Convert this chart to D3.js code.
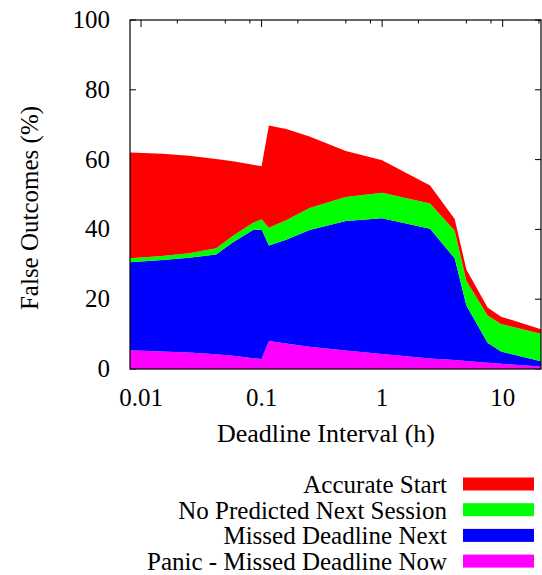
<!DOCTYPE html>
<html>
<head>
<meta charset="utf-8">
<script src="https://cdn.jsdelivr.net/npm/d3@7"></script>
<style>
  body { margin: 0; background: #fff; }
  svg text { font-family: "Liberation Serif", "Times New Roman", serif; fill: #000; }
</style>
</head>
<body>
<svg width="542" height="575"></svg>
<script>
// deadline interval in hours
var hours = [0.0081, 0.015, 0.025, 0.042, 0.058, 0.085, 0.1, 0.115, 0.16, 0.25, 0.5, 1, 2.5, 4, 5, 7.5, 9.7, 20.8];

// per-category share of false outcomes (%), stacked bottom to top
var panicNow   = [5.4, 5.0, 4.7, 4.2, 3.8, 3.1, 2.9, 8.0, 7.3, 6.4, 5.3, 4.3, 3.0, 2.6, 2.3, 1.8, 1.5, 0.7];
var missedNext = [25.2, 26.2, 27.2, 28.6, 32.5, 36.7, 37.1, 27.4, 29.7, 33.4, 37.1, 38.9, 37.2, 29.1, 15.9, 5.7, 3.5, 1.5];
var noPredict  = [1.1, 1.2, 1.3, 1.8, 1.9, 2.1, 2.9, 5.1, 5.6, 6.3, 6.9, 7.3, 7.2, 7.9, 7.1, 7.8, 7.9, 7.9];
var accurate   = [30.3, 29.3, 27.9, 25.6, 21.3, 16.6, 15.2, 29.3, 26.2, 20.5, 13.2, 9.3, 5.2, 3.4, 3.2, 2.3, 2.1, 1.3];

var keys = ["panic", "missed", "nopred", "accurate"];
var labels = {
  accurate: "Accurate Start",
  nopred: "No Predicted Next Session",
  missed: "Missed Deadline Next",
  panic: "Panic - Missed Deadline Now"
};
var colors = { accurate: "#ff0000", nopred: "#00ff00", missed: "#0000ff", panic: "#ff00ff" };

var yTicks = [0, 20, 40, 60, 80, 100];
var xMajor = [0.01, 0.1, 1, 10];
var xMinor = [0.02, 0.05, 0.08, 0.2, 0.5, 0.8, 2, 5, 8, 20];

var rows = hours.map(function(h, i) {
  return { h: h, panic: panicNow[i], missed: missedNext[i], nopred: noPredict[i], accurate: accurate[i] };
});

var svg = d3.select("svg"),
    plotLeft = 130, plotRight = 541, plotTop = 20, plotBottom = 369;

var x = d3.scaleLog().domain(d3.extent(hours)).range([plotLeft, plotRight]);
var y = d3.scaleLinear().domain([0, 100]).range([plotBottom, plotTop]);

var series = d3.stack().keys(keys)(rows);

// ticks (drawn first, areas cover them like in the original)
var ticks = svg.append("g").attr("stroke", "#000").attr("stroke-width", 1);
yTicks.forEach(function(t) {
  ticks.append("line").attr("x1", plotLeft).attr("x2", plotLeft + 6).attr("y1", y(t)).attr("y2", y(t));
  ticks.append("line").attr("x1", plotRight - 6).attr("x2", plotRight).attr("y1", y(t)).attr("y2", y(t));
});
xMajor.forEach(function(t) {
  ticks.append("line").attr("x1", x(t)).attr("x2", x(t)).attr("y1", plotTop).attr("y2", plotTop + 7);
  ticks.append("line").attr("x1", x(t)).attr("x2", x(t)).attr("y1", plotBottom - 7).attr("y2", plotBottom);
});
xMinor.forEach(function(t) {
  ticks.append("line").attr("x1", x(t)).attr("x2", x(t)).attr("y1", plotTop).attr("y2", plotTop + 3.5);
  ticks.append("line").attr("x1", x(t)).attr("x2", x(t)).attr("y1", plotBottom - 3.5).attr("y2", plotBottom);
});

var area = d3.area()
    .x(function(d) { return x(d.data.h); })
    .y0(function(d) { return y(d[0]); })
    .y1(function(d) { return y(d[1]); });

svg.append("g").selectAll("path")
    .data(series)
  .enter().append("path")
    .attr("d", area)
    .attr("fill", function(d) { return colors[d.key]; });

// border
svg.append("rect")
    .attr("x", plotLeft).attr("y", plotTop)
    .attr("width", plotRight - plotLeft).attr("height", plotBottom - plotTop)
    .attr("fill", "none").attr("stroke", "#000").attr("stroke-width", 1.2);

// tick labels
svg.append("g").selectAll("text")
    .data(yTicks)
  .enter().append("text")
    .attr("x", 110)
    .attr("y", function(d) { return y(d) + 8; })
    .attr("text-anchor", "end")
    .attr("font-size", "25px")
    .text(function(d) { return d; });

svg.append("g").selectAll("text")
    .data(xMajor)
  .enter().append("text")
    .attr("x", function(d) { return x(d); })
    .attr("y", 406)
    .attr("text-anchor", "middle")
    .attr("font-size", "25px")
    .text(function(d) { return d; });

svg.append("text")
    .attr("x", 326).attr("y", 442)
    .attr("text-anchor", "middle")
    .attr("font-size", "26px")
    .text("Deadline Interval (h)");

svg.append("text")
    .attr("transform", "translate(38,208) rotate(-90)")
    .attr("text-anchor", "middle")
    .attr("font-size", "25px")
    .text("False Outcomes (%)");

// legend
var legend = svg.append("g").selectAll("g")
    .data(keys.slice().reverse())
  .enter().append("g")
    .attr("transform", function(d, i) { return "translate(0," + (484 + i * 25.7) + ")"; });

legend.append("text")
    .attr("x", 447).attr("y", 9)
    .attr("text-anchor", "end")
    .attr("font-size", "25px")
    .text(function(d) { return labels[d]; });

legend.append("rect")
    .attr("x", 463).attr("y", -6.5)
    .attr("width", 71).attr("height", 13)
    .attr("fill", function(d) { return colors[d]; });
</script>
</body>
</html>
